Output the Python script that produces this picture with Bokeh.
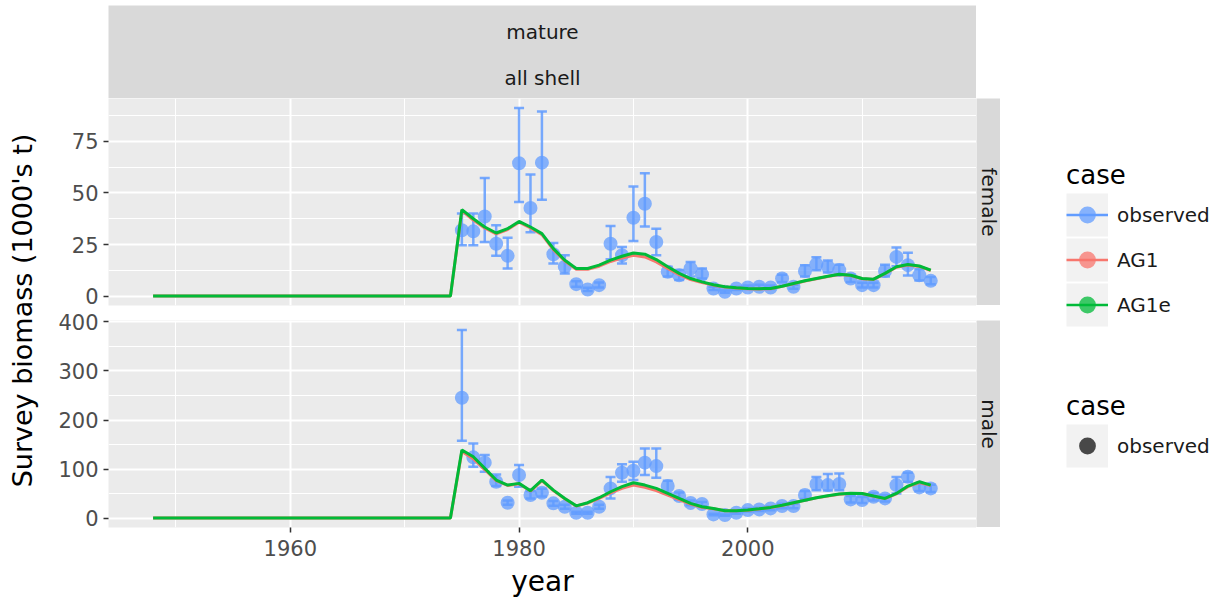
import math
from bokeh.plotting import figure
from bokeh.layouts import row, column
from bokeh.models import (ColumnDataSource, Whisker, TeeHead, FixedTicker, Range1d,
                          Legend, LegendItem, Label, Spacer)
from bokeh.embed import file_html
from bokeh.resources import INLINE

FONT = "DejaVu Sans"
NAN = float("nan")

# ---------------- data ----------------
model_years = list(range(1948, 2017))
obs_years = list(range(1975, 2017))

pre_zero = [0.0, 0.0, 0.0, 0.0, 0.0, 0.0, 0.0, 0.0, 0.0, 0.0, 0.0, 0.0, 0.0, 0.0,
            0.0, 0.0, 0.0, 0.0, 0.0, 0.0, 0.0, 0.0, 0.0, 0.0, 0.0, 0.0, 0.0]  # 1948-1974

female_ag1e = pre_zero + [41.9, 37.5, 33.5, 30.6, 32.7, 36.2, 33.5, 30.3, 23.0, 17.4, 13.4, 13.4,
                          15.0, 17.4, 19.3, 20.9, 20.3, 17.7, 14.2, 11.0, 8.5, 6.9, 5.5, 4.5, 4.0,
                          3.7, 3.6, 3.7, 4.8, 6.1, 7.4, 8.5, 9.6, 10.6, 10.1, 8.5, 8.2, 11.0, 14.2,
                          15.3, 14.6, 12.6]
female_ag1 = pre_zero + [41.5, 36.9, 33.0, 30.2, 32.3, 35.8, 33.0, 29.8, 22.5, 17.0, 13.0, 13.0,
                         14.5, 16.8, 18.5, 19.8, 19.0, 16.6, 13.4, 10.4, 8.0, 6.6, 5.3, 4.4, 3.9,
                         3.6, 3.5, 3.6, 4.7, 6.0, 7.3, 8.4, 9.5, 10.5, 10.0, 8.4, 8.1, 10.9, 14.0,
                         15.1, 14.4, 12.4]
male_ag1e = pre_zero + [138.8, 125.0, 101.4, 77.6, 67.3, 70.8, 55.8, 77.6, 57.0, 40.1, 25.0, 31.3,
                        41.5, 53.7, 64.0, 72.0, 67.3, 60.5, 50.3, 40.0, 30.0, 23.0, 19.7, 15.0, 15.0,
                        16.3, 19.0, 21.8, 26.0, 31.3, 36.5, 41.5, 45.5, 49.0, 50.5, 50.3, 45.0, 40.0,
                        50.3, 65.3, 74.0, 67.3]
male_ag1 = pre_zero + [136.0, 121.0, 99.0, 76.5, 66.5, 70.0, 55.0, 76.5, 56.0, 39.5, 24.5, 30.5,
                       40.0, 51.5, 60.5, 67.3, 62.6, 56.0, 47.0, 37.5, 28.5, 22.0, 19.0, 14.8, 14.8,
                       16.0, 18.7, 21.5, 25.7, 31.0, 36.2, 41.2, 45.2, 48.7, 50.2, 50.0, 44.7, 39.7,
                       49.5, 64.0, 72.5, 66.5]

female_obs = [31.9, 31.4, 38.6, 25.4, 19.5, 64.4, 42.7, 64.7, 20.3, 14.2, 5.8, 3.2, 5.3, 25.4,
              19.8, 38.0, 44.8, 26.2, 11.8, 10.1, 13.4, 10.5, 3.7, 2.1, 3.7, 4.2, 4.5, 4.2, 8.5,
              4.5, 12.2, 15.5, 14.2, 12.6, 8.5, 5.3, 5.3, 12.2, 19.0, 15.0, 10.1, 7.4]
female_lo = [24.6, 24.6, 26.2, 19.5, 13.4, 45.6, 31.0, 46.7, 15.8, 11.0, 4.5, 2.5, 4.2, 17.9,
             15.8, 26.7, 33.8, 19.8, 9.5, 7.8, 9.5, 8.5, 3.0, 1.6, 3.0, 3.4, 3.6, 3.4, 6.8, 3.6,
             9.5, 12.5, 11.5, 10.2, 6.8, 4.2, 4.2, 9.5, 14.5, 10.0, 7.6, 5.8]
female_hi = [40.0, 40.0, 57.2, 34.3, 28.3, 91.2, 59.0, 89.5, 25.7, 19.8, 7.2, 4.0, 6.6, 34.0,
             23.8, 53.1, 59.6, 32.7, 14.2, 12.6, 16.5, 13.4, 4.5, 2.7, 4.5, 5.1, 5.5, 5.1, 10.3,
             5.5, 15.0, 18.8, 17.2, 15.2, 10.3, 6.5, 6.5, 15.2, 23.5, 21.0, 13.0, 9.2]

male_obs = [245.5, 123.8, 113.0, 74.0, 31.3, 87.8, 47.0, 51.7, 30.0, 23.0, 10.9, 10.9, 23.0,
            60.5, 92.5, 96.6, 113.0, 106.0, 65.3, 45.0, 31.0, 28.6, 7.5, 6.1, 10.9, 16.3, 17.7,
            19.7, 24.5, 24.5, 47.0, 69.4, 67.3, 69.4, 38.1, 36.7, 43.5, 40.1, 67.3, 84.4, 62.6,
            60.5]
male_lo = [157.8, 104.7, 94.5, 65.3, 27.0, 64.0, 40.0, 44.0, 25.0, 19.0, 9.0, 9.0, 19.0, 40.0,
           74.0, 77.6, 87.8, 82.0, 50.0, 38.0, 26.0, 24.0, 6.0, 5.0, 9.0, 13.5, 14.5, 16.0, 20.0,
           20.0, 39.0, 57.0, 56.0, 57.0, 32.0, 31.0, 36.0, 34.0, 50.0, 74.0, 55.0, 53.0]
male_hi = [383.7, 152.0, 128.6, 89.0, 36.0, 108.0, 55.0, 60.0, 35.0, 27.0, 13.0, 13.0, 27.0,
           84.0, 110.0, 115.0, 142.0, 142.0, 76.0, 52.0, 36.0, 33.0, 9.0, 7.5, 13.0, 19.5, 21.0,
           23.5, 29.0, 29.0, 55.0, 84.0, 90.0, 91.0, 45.0, 43.0, 51.0, 47.0, 84.0, 92.5, 70.0,
           68.0]

x_ticks = [1960, 1980, 2000]
x_minor = [1950, 1970, 1990, 2010]
female_ticks = [0, 25, 50, 75]
female_minor = [12.5, 37.5, 62.5, 87.5]
male_ticks = [0, 100, 200, 300, 400]
male_minor = [50, 150, 250, 350]

C_OBS = "#619CFF"
C_AG1 = "#F8766D"
C_AG1E = "#00BA38"
PANEL_BG = "#EBEBEB"
STRIP_BG = "#D9D9D9"

FRAME_W = 868
FRAME_H = 207
LEFT_B = 60
TOP_PAD = 5
STRIP_H = 93
F_BOT = 4
M_TOP = 11
M_BOT = 70
TOTAL_H = TOP_PAD + STRIP_H + FRAME_H + F_BOT + M_TOP + FRAME_H + M_BOT  # 597

x_range = Range1d(1944.1, 2020.0)


def make_panel(yr, yticks, yminor, obs, lo, hi, ag1, ag1e, show_x):
    p = figure(x_range=x_range, y_range=yr, frame_width=FRAME_W, frame_height=FRAME_H,
               output_backend="svg", toolbar_location=None,
               x_axis_location="below" if show_x else None,
               min_border=0, min_border_left=LEFT_B, min_border_right=0,
               min_border_top=M_TOP if show_x else 0,
               min_border_bottom=M_BOT if show_x else F_BOT,
               background_fill_color=PANEL_BG, border_fill_color="white",
               outline_line_color=None)
    p.xgrid.ticker = FixedTicker(ticks=x_ticks, minor_ticks=x_minor)
    p.ygrid.ticker = FixedTicker(ticks=yticks, minor_ticks=yminor)
    for g in (p.xgrid, p.ygrid):
        g.grid_line_color = "white"
        g.grid_line_width = 2
        g.minor_grid_line_color = "white"
        g.minor_grid_line_width = 1
    axes = list(p.yaxis) + (list(p.xaxis) if show_x else [])
    for ax in axes:
        ax.axis_line_color = None
        ax.major_tick_line_color = "#333333"
        ax.major_tick_line_width = 1.5
        ax.major_tick_out = 5
        ax.major_tick_in = 0
        ax.minor_tick_line_color = None
        ax.major_label_text_color = "#4D4D4D"
        ax.major_label_text_font = FONT
        ax.major_label_text_font_size = "21px"
        ax.major_label_standoff = 5
    p.yaxis.ticker = FixedTicker(ticks=yticks, minor_ticks=yminor)
    if show_x:
        p.xaxis.ticker = FixedTicker(ticks=x_ticks, minor_ticks=x_minor)
        p.xaxis.major_label_standoff = 7
        p.xaxis.axis_label = "year"
        p.xaxis.axis_label_text_font = FONT
        p.xaxis.axis_label_text_font_size = "28px"
        p.xaxis.axis_label_text_font_style = "normal"
        p.xaxis.axis_label_text_color = "black"
        p.xaxis.axis_label_standoff = 6

    src = ColumnDataSource(dict(year=obs_years, val=obs, lo=lo, hi=hi))
    w = Whisker(source=src, base="year", upper="hi", lower="lo",
                line_color=C_OBS, line_width=2.5, line_alpha=0.85, level="underlay",
                upper_head=TeeHead(size=10, line_color=C_OBS, line_width=2.5, line_alpha=0.85),
                lower_head=TeeHead(size=10, line_color=C_OBS, line_width=2.5, line_alpha=0.85))
    p.add_layout(w)
    p.scatter("year", "val", source=src, size=14, fill_color=C_OBS, fill_alpha=0.75,
              line_color=None)
    p.line(model_years, ag1, line_color=C_AG1, line_width=3)
    p.line(model_years, ag1e, line_color=C_AG1E, line_width=3)
    return p


def blank(width, height, bg):
    f = figure(width=width, height=height, x_range=Range1d(0, 1), y_range=Range1d(0, 1),
               x_axis_location=None, y_axis_location=None, toolbar_location=None,
               output_backend="svg", min_border=0, outline_line_color=None,
               background_fill_color=bg, border_fill_color=bg)
    f.grid.visible = False
    return f


pf = make_panel(Range1d(-4.56, 95.8), female_ticks, female_minor, female_obs, female_lo,
                female_hi, female_ag1, female_ag1e, False)
pm = make_panel(Range1d(-19.2, 402.9), male_ticks, male_minor, male_obs, male_lo, male_hi,
                male_ag1, male_ag1e, True)

# top strip
ts = blank(FRAME_W, STRIP_H, STRIP_BG)
for txt, yy in (("mature", 67), ("all shell", 21)):
    ts.add_layout(Label(x=FRAME_W / 2, y=yy, x_units="screen", y_units="screen", text=txt,
                        text_align="center", text_baseline="middle", text_font=FONT,
                        text_font_size="20px", text_color="#1A1A1A"))


def side_strip(txt):
    s = blank(24, FRAME_H, STRIP_BG)
    s.add_layout(Label(x=12, y=FRAME_H / 2, x_units="screen", y_units="screen", text=txt,
                       angle=-math.pi / 2, text_align="center", text_baseline="middle",
                       text_font=FONT, text_font_size="20px", text_color="#1A1A1A"))
    return s


sf = side_strip("female")
sm = side_strip("male")

# y title
yt = blank(48, TOTAL_H, "white")
yt.add_layout(Label(x=22, y=TOTAL_H - 310, x_units="screen", y_units="screen",
                    text="Survey biomass (1000's t)", angle=math.pi / 2, text_align="center",
                    text_baseline="middle", text_font=FONT, text_font_size="27px",
                    text_color="black"))

# legends (key glyphs drawn from placeholder renderers with no visible data)
lf = blank(222, TOTAL_H, "white")
ph = dict(x=[NAN], y=[NAN])
box = lf.line(x="x", y="y", source=ColumnDataSource(ph), line_color="#F2F2F2", line_width=43)
bl = lf.line(x="x", y="y", source=ColumnDataSource(ph), line_color=C_OBS, line_width=2.5)
bc = lf.scatter(x="x", y="y", source=ColumnDataSource(ph), fill_color=C_OBS, fill_alpha=0.75,
                line_color=None)
rl = lf.line(x="x", y="y", source=ColumnDataSource(ph), line_color=C_AG1, line_width=2.5)
rc = lf.scatter(x="x", y="y", source=ColumnDataSource(ph), fill_color=C_AG1, fill_alpha=0.75,
                line_color=None)
gl = lf.line(x="x", y="y", source=ColumnDataSource(ph), line_color=C_AG1E, line_width=2.5)
gc = lf.scatter(x="x", y="y", source=ColumnDataSource(ph), fill_color=C_AG1E, fill_alpha=0.75,
                line_color=None)
kc = lf.scatter(x="x", y="y", source=ColumnDataSource(ph), fill_color="black", fill_alpha=0.7,
                line_color=None)


def style_legend(lg):
    lg.glyph_width = 42
    lg.glyph_height = 45
    lg.label_height = 45
    lg.spacing = 0
    lg.padding = 0
    lg.margin = 0
    lg.border_line_color = None
    lg.background_fill_alpha = 0
    lg.label_text_font = FONT
    lg.label_text_font_size = "20px"
    lg.label_text_color = "#1A1A1A"
    lg.label_standoff = 9
    lg.title_text_font = FONT
    lg.title_text_font_size = "26px"
    lg.title_text_font_style = "normal"
    lg.title_text_color = "black"
    lg.title_standoff = 2


leg1 = Legend(items=[LegendItem(label="observed", renderers=[box, bl, bc]),
                     LegendItem(label="AG1", renderers=[box, rl, rc]),
                     LegendItem(label="AG1e", renderers=[box, gl, gc])],
              title="case", location=(66, TOTAL_H - 327))
style_legend(leg1)
leg2 = Legend(items=[LegendItem(label="observed", renderers=[box, kc])],
              title="case", location=(66, TOTAL_H - 468))
style_legend(leg2)
lf.add_layout(leg1)
lf.add_layout(leg2)

center = column(
    Spacer(width=10, height=TOP_PAD),
    row(Spacer(width=LEFT_B, height=STRIP_H), ts),
    row(pf, column(sf, Spacer(width=24, height=F_BOT))),
    row(pm, column(Spacer(width=24, height=M_TOP), sm)),
)
layout = row(yt, center, lf)

open("out.html", "w").write(file_html(layout, INLINE))
